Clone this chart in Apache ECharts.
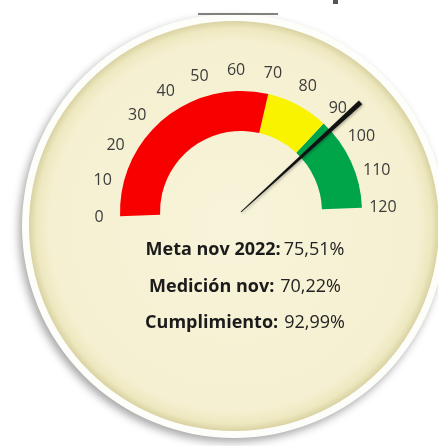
<!DOCTYPE html>
<html>
<head>
<meta charset="utf-8">
<script src="https://cdn.jsdelivr.net/npm/echarts@6/dist/echarts.min.js"></script>
<style>
  html, body { margin: 0; padding: 0; background: #fff; }
  #chart { width: 438px; height: 446px; }
</style>
</head>
<body>
<div id="chart"></div>
<script>
  // gauge scale
  var gaugeMin = 0
  var gaugeMax = 120
  var tickStep = 10

  // band limits (upper bound of each band) and their colours
  var bandLimits = [70, 90, 120]
  var bandColors = ['#f80000', '#f9f300', '#00a54a']

  // needle value (Cumplimiento)
  var needleValue = [92.99]

  // info text under the gauge
  var infoLabels = ['Meta nov 2022:', 'Medición nov:', 'Cumplimiento:']
  var infoValues = ['75,51%', '70,22%', '92,99%']

  var font = '"Open Sans", "DejaVu Sans", sans-serif'
  var chart = echarts.init(document.getElementById('chart'))

  var axisColors = bandLimits.map(function(lim, i) {
    return [(lim - gaugeMin) / (gaugeMax - gaugeMin), bandColors[i]]
  })

  var infoTexts = infoLabels.map(function(lbl, i) {
    return {
      type: 'text',
      x: 245,
      y: 250 + i * 36.5,
      z: 10,
      style: {
        text: '{b|' + lbl + '}{g|}{n|' + infoValues[i] + '}',
        align: 'center',
        verticalAlign: 'middle',
        textAlign: 'center',
        textVerticalAlign: 'middle',
        rich: {
          b: { fontFamily: font, fontSize: 18, fontWeight: 'bold', fill: '#1b1b1b', color: '#1b1b1b' },
          g: { width: i === 0 ? 3 : 6, fontSize: 18 },
          n: { fontFamily: font, fontSize: 18, fontWeight: 'normal', fill: '#222', color: '#222' },
        },
      },
    }
  })

  var option = {
    backgroundColor: '#ffffff',
    animation: false,
    graphic: [
      // outer white rim with shadow
      {
        type: 'circle',
        z: 0,
        shape: { cx: 234, cy: 226, r: 212 },
        style: {
          fill: '#fdfdf9',
          shadowBlur: 9,
          shadowColor: 'rgba(0,0,0,0.35)',
          shadowOffsetX: -3,
          shadowOffsetY: 4,
        },
      },
      // cream disc
      {
        type: 'circle',
        z: 1,
        shape: { cx: 234, cy: 226, r: 205 },
        style: {
          fill: {
            type: 'radial',
            x: 0.5,
            y: 0.5,
            r: 0.5,
            colorStops: [
              { offset: 0, color: '#f8f4da' },
              { offset: 0.9, color: '#f5f0d1' },
              { offset: 0.965, color: '#eee8c0' },
              { offset: 1, color: '#d9d2a2' },
            ],
          },
        },
      },
      // cut-off title fragments at the top
      {
        type: 'line',
        z: 2,
        shape: { x1: 198, y1: 14, x2: 278, y2: 14 },
        style: { stroke: '#5a5a52', lineWidth: 1.5 },
      },
      {
        type: 'rect',
        z: 2,
        shape: { x: 333, y: 0, width: 5, height: 4 },
        style: { fill: '#555' },
      },
    ].concat(infoTexts),
    series: [
      {
        type: 'gauge',
        z: 5,
        center: [241, 212],
        radius: 121,
        startAngle: 182,
        endAngle: 2,
        min: gaugeMin,
        max: gaugeMax,
        splitNumber: (gaugeMax - gaugeMin) / tickStep,
        axisLine: {
          lineStyle: { width: 40, color: axisColors },
        },
        axisTick: { show: false },
        splitLine: { show: false, length: 0, distance: 0 },
        axisLabel: {
          distance: -21,
          rotate: 0.001,
          color: '#3c3c3c',
          fontSize: 16,
          fontFamily: font,
        },
        pointer: {
          icon: 'path://M0,0 L10,0 L6,100 L4,100 Z',
          length: '134%',
          width: 5,
          itemStyle: {
            color: '#111',
            shadowBlur: 3,
            shadowColor: 'rgba(0,0,0,0.35)',
            shadowOffsetX: 1,
            shadowOffsetY: 1,
          },
        },
        anchor: { show: false },
        title: { show: false },
        detail: { show: false },
        data: needleValue.map(function(v) {
          return { value: v }
        }),
      },
    ],
  }

  chart.setOption(option)
</script>
</body>
</html>
